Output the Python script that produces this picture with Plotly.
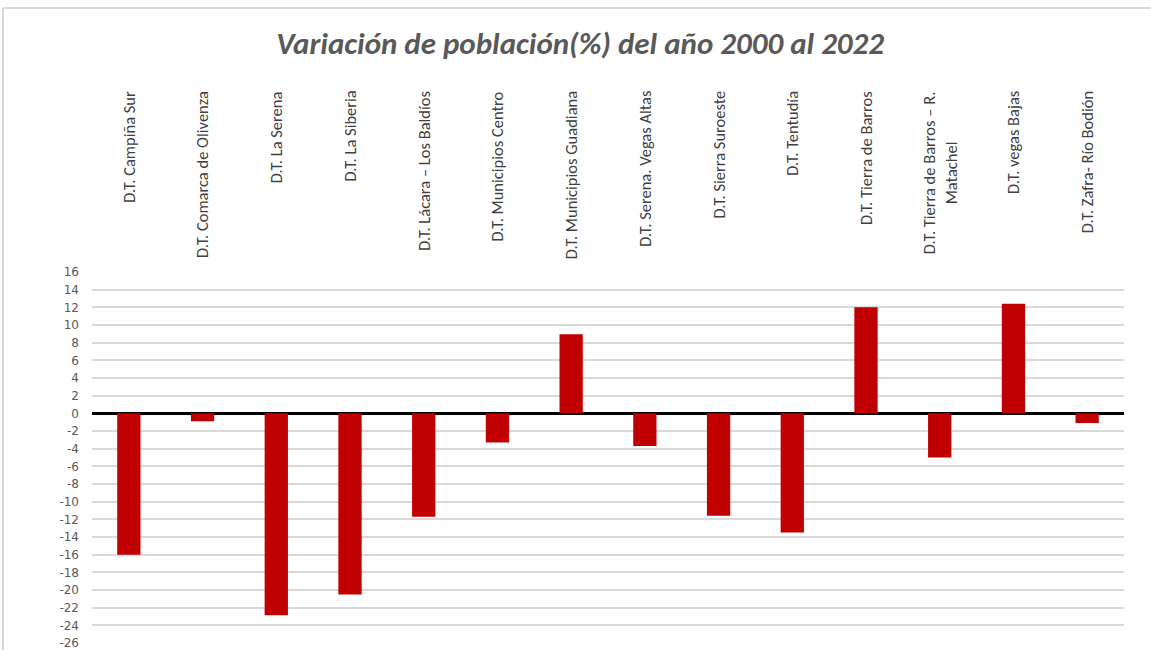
import plotly.graph_objects as go

categories = [
    "D.T. Campiña Sur",
    "D.T. Comarca de Olivenza",
    "D.T. La Serena",
    "D.T. La Siberia",
    "D.T. Lácara – Los Baldíos",
    "D.T. Municipios Centro",
    "D.T. Municipios Guadiana",
    "D.T. Serena. Vegas Altas",
    "D.T. Sierra Suroeste",
    "D.T. Tentudía",
    "D.T. Tierra de Barros",
    "D.T. Tierra de Barros – R.<br>Matachel",
    "D.T. vegas Bajas",
    "D.T. Zafra- Río Bodión",
]
values = [-16.0, -0.9, -22.85, -20.5, -11.7, -3.3, 8.95, -3.7, -11.6, -13.5, 12.0, -5.0, 12.4, -1.1]
y_ticks = list(range(-26, 17, 2))

W, H = 1151, 650
L, R, T, B = 92, 27, 272, 7
FONT = "Carlito, Liberation Sans, sans-serif"

fig = go.Figure()
fig.add_trace(go.Bar(
    x=list(range(len(categories))), y=values,
    marker=dict(color="#C00000", line=dict(width=0)),
    width=0.316,
))

for i, c in enumerate(categories):
    fig.add_annotation(
        x=i, xref="x", y=(H - 89 - B) / (H - T - B), yref="paper",
        text=c, textangle=-90, showarrow=False,
        xanchor="center", yanchor="top",
        font=dict(family=FONT, size=16.5, color="#404040"),
    )

px = lambda xp: (xp - L) / (W - L - R)
py = lambda yp: (H - B - yp) / (H - T - B)
fig.add_shape(type="line", xref="paper", yref="paper",
              x0=px(3), x1=px(1151), y0=py(8), y1=py(8),
              line=dict(color="#d9d9d9", width=2))
fig.add_shape(type="line", xref="paper", yref="paper",
              x0=px(3), x1=px(3), y0=py(8), y1=py(650),
              line=dict(color="#d9d9d9", width=2))

fig.update_layout(
    width=W, height=H,
    margin=dict(l=L, r=R, t=T, b=B, autoexpand=False),
    paper_bgcolor="white", plot_bgcolor="white",
    showlegend=False,
    title=dict(
        text="<b><i>Variación de población(%) del año 2000 al 2022</i></b>",
        x=0.504, xanchor="center", y=(H - 43) / H, yanchor="middle",
        font=dict(family=FONT, size=31, color="#595959"),
    ),
    xaxis=dict(range=[-0.5, len(categories) - 0.5], showticklabels=False,
               showgrid=False, zeroline=False, showline=False, automargin=False),
    yaxis=dict(range=[-26, 16], tickvals=y_ticks, ticktext=[str(v) for v in y_ticks],
               showgrid=True, gridcolor="#d9d9d9", gridwidth=1.5,
               zeroline=True, zerolinecolor="#000000", zerolinewidth=3,
               showline=False, ticks="", ticklabelstandoff=12,
               ticklabeloverflow="allow", automargin=False,
               tickfont=dict(family="DejaVu Sans", size=12, color="#595959")),
)

fig.write_html("out.html", post_script="document.body.style.margin='0';",
               config={"displayModeBar": False})
